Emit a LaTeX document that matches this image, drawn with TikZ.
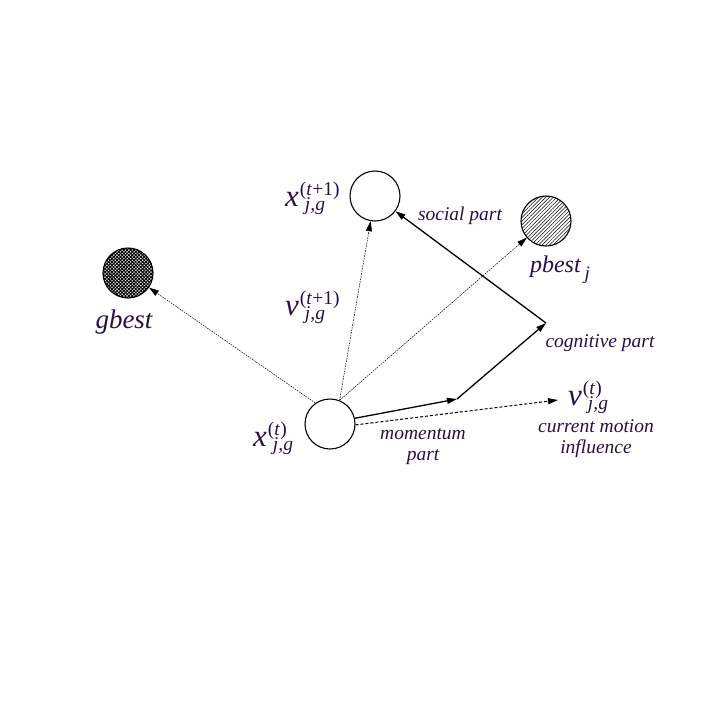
\documentclass[tikz,border=0pt]{standalone}
\usepackage{fontspec}
\setmainfont{Liberation Serif}
\usetikzlibrary{arrows.meta,patterns.meta}
\definecolor{txt}{RGB}{40,15,70}
\newcommand{\scr}{\fontsize{19.5}{20}\selectfont}
\newcommand{\vlab}[2]{\textit{#1}\kern1pt\rlap{\raisebox{11pt}{\scr\textup{(}\textit{t}\textup{#2)}}}\raisebox{-4pt}{\scr\kern5pt\textit{j,g}}}
\begin{document}
\begin{tikzpicture}[x=1pt,y=-1pt,
  ball/.style={circle,draw,line width=1.1pt,minimum size=50pt,inner sep=0pt},
  lbl/.style={text=txt,inner sep=0pt},
  small/.style={lbl,font=\itshape\fontsize{19.5}{21}\selectfont,align=center},
  big/.style={lbl,anchor=base west,font=\itshape\fontsize{31}{33}\selectfont},
  ballname/.style={lbl,font=\itshape\fontsize{27}{29}\selectfont},
  tip/.style={-{Triangle[length=10pt,width=6pt]}},
  dotline/.style={tip,line width=0.5pt,dash pattern=on 1.6pt off 1pt},
  bold/.style={tip,line width=1.3pt}]
\useasboundingbox (0,0) rectangle (709,710);
\node[ball] (xt) at (330,424) {};
\node[ball] (xt1) at (375,196) {};
\node[ball,pattern={Hatch[angle=45,distance=2.4pt,line width=1pt]}] (gb) at (128,273) {};
\node[ball,pattern={Lines[angle=45,distance=2.6pt,line width=0.5pt]}] (pb) at (546,221) {};
\coordinate (cog) at (546,323);
\coordinate (mom) at (457,399);
\coordinate (vt) at (558,400);
% dotted
\draw[dotline] (xt.125) -- (gb);
\draw[dotline] (xt.68) -- (xt1);
\draw[dotline] (xt.68) -- (pb);
% bold
\draw[bold] (xt.13) -- (mom);
\draw[bold] (mom) -- (cog);
\draw[bold] (cog) -- (xt1);
% dashed
\draw[tip,line width=1pt,dash pattern=on 3pt off 2pt] (xt.-2) -- (vt);
% labels
\node[big] (lxt1) at (285,206) {\vlab{x}{+1}};
\node[big] (lvt1) at (285,315) {\vlab{v}{+1}};
\node[big] (lxt) at (253,446) {\vlab{x}{}};
\node[big] (lvt) at (568,405) {\vlab{v}{}};
\node[ballname] (lgb) at (124,322) {gbest};
\node[ballname,font=\itshape\fontsize{24}{26}\selectfont] (lpb) at (560,270) {pbest\,\raisebox{-7pt}{\fontsize{19}{21}\selectfont j}};
\node[small] (lsoc) at (460,216) {social part};
\node[small] (lcog) at (600,343) {cognitive part};
\node[small] (lmom) at (423,447) {momentum\\part};
\node[small] (lcmi) at (596,439) {current motion\\influence};
\end{tikzpicture}
\end{document}
